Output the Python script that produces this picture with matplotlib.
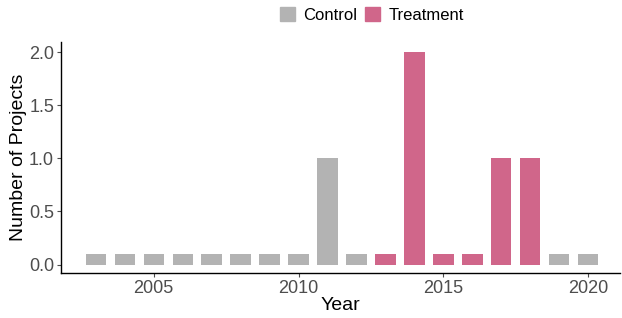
import matplotlib
matplotlib.use('Agg')
import matplotlib.pyplot as plt
from matplotlib.patches import Patch

plt.rcParams['font.family'] = ['Liberation Sans', 'DejaVu Sans']

years = list(range(2003, 2021))
counts = [0.1, 0.1, 0.1, 0.1, 0.1, 0.1, 0.1, 0.1, 1.0, 0.1,
          0.1, 2.0, 0.1, 0.1, 1.0, 1.0, 0.1, 0.1]
groups = ['Control'] * 10 + ['Treatment'] * 6 + ['Control'] * 2

colors = {'Control': '#B3B3B3', 'Treatment': '#D0668A'}

fig = plt.figure(figsize=(6.22, 3.18), dpi=100)
ax = fig.add_axes([0.098, 0.1415, 0.899, 0.727])

ax.bar(years, counts, width=0.7, color=[colors[g] for g in groups])

ax.set_xlim(2001.8, 2021.1)
ax.set_ylim(-0.08, 2.1)
ax.set_xticks([2005, 2010, 2015, 2020])
ax.set_yticks([0.0, 0.5, 1.0, 1.5, 2.0])
ax.set_yticklabels(['0.0', '0.5', '1.0', '1.5', '2.0'])

for s in ['top', 'right']:
    ax.spines[s].set_visible(False)
for s in ['left', 'bottom']:
    ax.spines[s].set_linewidth(1.0)
    ax.spines[s].set_color('black')

ax.tick_params(axis='both', labelsize=13, colors='#4D4D4D', length=3,
               width=0.8, labelcolor='#4D4D4D', pad=2)
ax.set_xlabel('Year', fontsize=14, color='black', labelpad=0)
ax.set_ylabel('Number of Projects', fontsize=14, color='black', labelpad=1)

handles = [Patch(color=colors['Control'], label='Control'),
           Patch(color=colors['Treatment'], label='Treatment')]
fig.legend(handles=handles, loc='center', bbox_to_anchor=(372 / 622, 1 - 15 / 318),
           ncol=2, frameon=False, fontsize=12, handlelength=0.9,
           handleheight=0.9, handletextpad=0.5, columnspacing=0.5)

fig.savefig('out.png', dpi=100)
